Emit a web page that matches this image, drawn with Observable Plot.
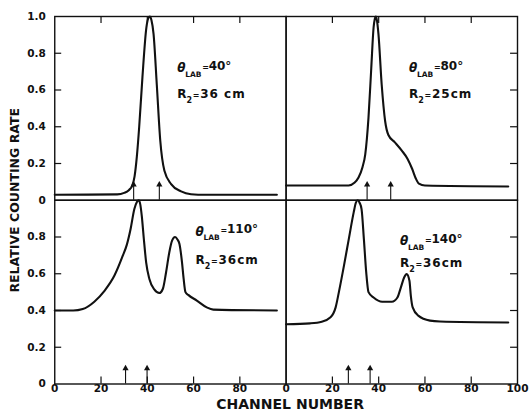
<!DOCTYPE html>
<html><head><meta charset="utf-8">
<script src="https://cdn.jsdelivr.net/npm/d3@7"></script>
<script src="https://cdn.jsdelivr.net/npm/@observablehq/plot@0.6"></script>
<style>
html,body{margin:0;padding:0;background:#fff;}
#chart{width:532px;height:415px;}
</style></head><body><div id="chart"></div>
<script>
// ---- data ----
const channel40 = [0, 27, 30, 32, 33.5, 34.5, 35.5, 36.5, 37.9, 39.6, 40.4, 41.1, 41.8, 42.7, 44.1, 45.6, 47.4, 50.3, 54.6, 58.9, 65, 96];
const rate40    = [.03, .032, .04, .055, .08, .13, .24, .40, .67, .94, .99, 1.0, .98, .906, .63, .325, .16, .088, .048, .033, .03, .03];

const channel80 = [0, 27, 29.5, 31.3, 33, 34.2, 35.6, 36.8, 37.8, 38.3, 38.8, 39.3, 39.9, 41.3, 42.8, 44.2, 47, 50, 52.5, 54.5, 56, 57.4, 60, 96];
const rate80    = [.08, .08, .095, .124, .18, .25, .45, .72, .94, .985, 1.0, .975, .905, .63, .43, .355, .315, .27, .225, .17, .12, .09, .08, .075];

const channel110 = [0, 8, 12.1, 17.1, 21.5, 25.8, 29.4, 31.2, 32.8, 34.4, 35.5, 36.3, 37, 37.6, 38.5, 39.5, 40.9, 43.1, 45.2, 46.7, 48.1, 49.5, 50.7, 52, 53.1, 53.9, 55, 55.7, 56.5, 57.7, 61.4, 65.7, 68.5, 96];
const rate110    = [.40, .40, .408, .448, .507, .59, .698, .76, .845, .952, .99, 1.0, .975, .916, .79, .662, .572, .513, .495, .517, .607, .716, .78, .80, .785, .762, .662, .573, .50, .485, .454, .417, .405, .40];

const channel140 = [0, 10.4, 15.4, 19.2, 21.4, 22.8, 25, 27.1, 29.2, 30.1, 30.9, 31.8, 32.6, 33.6, 34.6, 35.6, 37.8, 41.5, 45.7, 48.1, 49.6, 51, 52.1, 53.3, 53.9, 54.7, 57.1, 62.2, 66.5, 96];
const rate140    = [.325, .33, .339, .363, .417, .5, .644, .79, .934, .985, 1.0, .985, .952, .79, .61, .5, .471, .448, .448, .471, .526, .58, .598, .562, .48, .417, .372, .345, .34, .335];

const arrows40 = [34.1, 45.2];
const arrows80 = [35.0, 45.2];
const arrows110 = [30.6, 39.9];
const arrows140 = [26.9, 36.3];

const angleLabels = ["40°", "80°", "110°", "140°"];
const radiusLabels = ["36 cm", "25cm", "36cm", "36cm"];

const xTickValues = [20, 40, 60, 80];
const yTickValues = [0.2, 0.4, 0.6, 0.8];
const yLabelValuesTop = [1, 0.8, 0.6, 0.4, 0.2, 0];
const yLabelTextTop = ["1.0", "0.8", "0.6", "0.4", "0.2", "0"];
const yLabelValuesBottom = [0.8, 0.6, 0.4, 0.2, 0];
const yLabelTextBottom = ["0.8", "0.6", "0.4", "0.2", "0"];
const xLabelValuesLeft = [0, 20, 40, 60, 80];
const xLabelValuesRight = [0, 20, 40, 60, 80, 100];
const yTitle = "RELATIVE COUNTING RATE";
const xTitle = "CHANNEL NUMBER";

// ---- layout (not data) ----
const annotationPlacement = [[52.9, 0.697, 0.557], [53.1, 0.697, 0.557], [60.8, 0.808, 0.654], [49.2, 0.754, 0.636]];

const panels = [
  {id: "40", col: "L", row: "T", channel: channel40, rate: rate40, arrows: arrows40},
  {id: "80", col: "R", row: "T", channel: channel80, rate: rate80, arrows: arrows80},
  {id: "110", col: "L", row: "B", channel: channel110, rate: rate110, arrows: arrows110},
  {id: "140", col: "R", row: "B", channel: channel140, rate: rate140, arrows: arrows140}
];
panels.forEach((p, i) => {
  p.angle = angleLabels[i];
  p.radius = radiusLabels[i];
  [p.ax, p.ay1, p.ay2] = annotationPlacement[i];
});

const curveRows = panels.flatMap(p => p.channel.map((c, i) => ({id: p.id, col: p.col, row: p.row, x: c, y: p.rate[i]})));
const arrowRows = panels.flatMap(p => p.arrows.map(x => ({col: p.col, row: p.row, x})));
const sideRows = (pred, vals) => panels.filter(pred).flatMap(p => vals.map(v => ({col: p.col, row: p.row, v})));
const topTicks = sideRows(p => p.row === "T", xTickValues);
const bottomTicks = sideRows(p => p.row === "B", xTickValues);
const leftTicks = sideRows(p => p.col === "L", yTickValues);
const rightTicks = sideRows(p => p.col === "R", yTickValues);

const yLabelRows = [
  ...yLabelValuesTop.map((v, i) => ({col: "L", row: "T", v, t: yLabelTextTop[i]})),
  ...yLabelValuesBottom.map((v, i) => ({col: "L", row: "B", v, t: yLabelTextBottom[i]}))
];
const xLabelRows = [
  ...xLabelValuesLeft.map(v => ({col: "L", row: "B", v, t: String(v)})),
  ...xLabelValuesRight.map(v => ({col: "R", row: "B", v, t: String(v)}))
];

const ink = "#111";
const F = {fx: "col", fy: "row"};
const ann = {x: "ax", textAnchor: "start", lineAnchor: "bottom", fill: ink, fontWeight: "bold", ...F};

const chart = Plot.plot({
  width: 532, height: 415,
  marginLeft: 54.25, marginRight: 15, marginTop: 16, marginBottom: 31.5,
  x: {domain: [0, 100], axis: null},
  y: {domain: [0, 1], axis: null},
  fx: {domain: ["L", "R"], padding: 0, round: false, axis: null},
  fy: {domain: ["T", "B"], padding: 0, round: false, axis: null},
  style: {background: "#fff", color: ink, fontFamily: "'DejaVu Sans', sans-serif", fontWeight: "bold", overflow: "visible"},
  marks: [
    Plot.frame({stroke: ink, strokeWidth: 1.4}),
    Plot.ruleX(topTicks, {x: "v", y1: 1, y2: 0.962, stroke: ink, strokeWidth: 1.2, ...F}),
    Plot.ruleX(bottomTicks, {x: "v", y1: 0, y2: 0.038, stroke: ink, strokeWidth: 1.2, ...F}),
    Plot.ruleY(leftTicks, {y: "v", x1: 0, x2: 3, stroke: ink, strokeWidth: 1.2, ...F}),
    Plot.ruleY(rightTicks, {y: "v", x1: 100, x2: 97, stroke: ink, strokeWidth: 1.2, ...F}),
    Plot.ruleX(arrowRows, {x: "x", y1: 0, y2: 0.085, stroke: ink, strokeWidth: 1.1, ...F}),
    Plot.dot(arrowRows, {x: "x", y: 0.085, symbol: "triangle", r: 2.3, fill: ink, stroke: null, ...F}),
    Plot.line(curveRows, {x: "x", y: "y", z: "id", curve: "monotone-x", stroke: ink, strokeWidth: 2.1, ...F}),
    Plot.text(yLabelRows, {frameAnchor: "left", y: "v", text: "t", dx: -9, textAnchor: "end", fontSize: 10.5, fontWeight: "bold", fill: ink, ...F}),
    Plot.text(xLabelRows, {frameAnchor: "bottom", x: "v", text: "t", dy: 8, fontSize: 10.5, fontWeight: "bold", fill: ink, ...F}),
    // annotations
    Plot.text(panels, {...ann, y: "ay1", text: () => "θ", fontSize: 12, fontStyle: "italic"}),
    Plot.text(panels, {...ann, y: "ay1", text: () => "LAB", dx: 8, dy: 4.5, fontSize: 7.5}),
    Plot.text(panels, {...ann, y: "ay1", text: () => "=", dx: 25, dy: -2.5, fontSize: 8}),
    Plot.text(panels, {...ann, y: "ay1", text: "angle", dx: 31.5, dy: -2.5, fontSize: 12}),
    Plot.text(panels, {...ann, y: "ay2", text: () => "R", fontSize: 12}),
    Plot.text(panels, {...ann, y: "ay2", text: () => "2", dx: 9.3, dy: 5, fontSize: 8}),
    Plot.text(panels, {...ann, y: "ay2", text: () => "=", dx: 15.5, fontSize: 8}),
    Plot.text(panels, {...ann, y: "ay2", text: "radius", dx: 23, fontSize: 12, ariaDescription: "annot-wide"}),
    // axis titles
    Plot.text([{col: "L", row: "T", t: yTitle}], {frameAnchor: "bottom-left", text: "t", textAnchor: "middle", rotate: -90, dx: -36, fontSize: 12.5, fontWeight: "bold", fill: ink, ...F}),
    Plot.text([{col: "R", row: "B", t: xTitle}], {frameAnchor: "bottom-left", text: "t", textAnchor: "middle", dx: 4, dy: 24.5, fontSize: 14, fontWeight: "bold", fill: ink, ...F})
  ]
});
d3.select(chart).selectAll('g[aria-description="annot-wide"] text').attr("letter-spacing", "1px");
document.getElementById("chart").appendChild(chart);
</script>
</body></html>
